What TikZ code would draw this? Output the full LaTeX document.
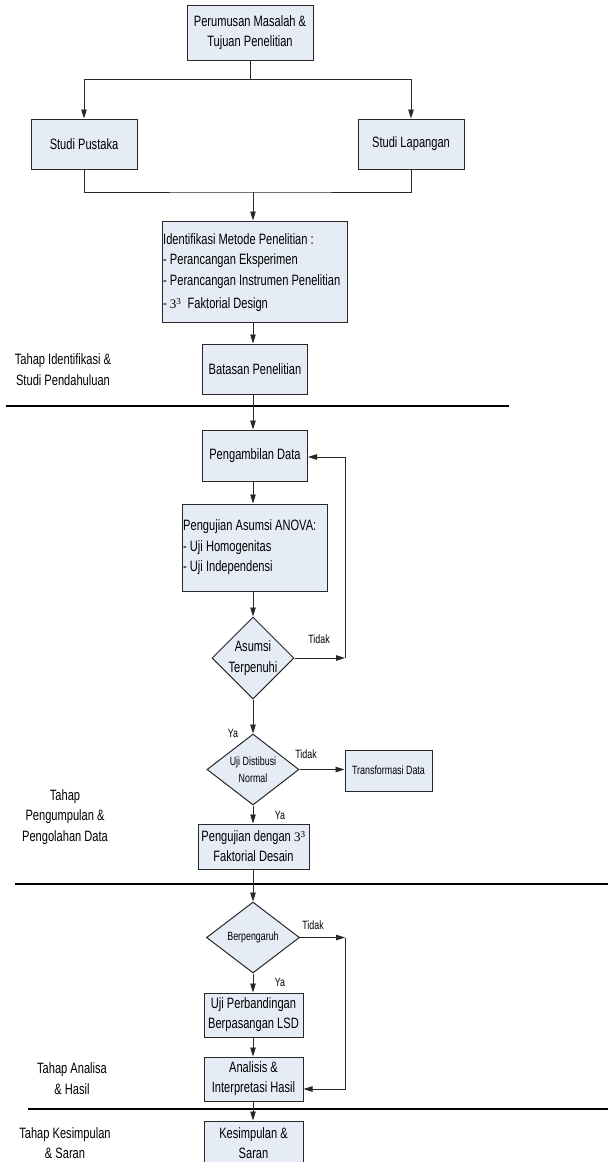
\documentclass[tikz,border=0pt]{standalone}
\usepackage{fontspec}
\setmainfont{Liberation Sans}[FakeStretch=0.74]
\newfontfamily\serifthree{Liberation Serif}
\usetikzlibrary{arrows.meta,shapes.geometric}
\definecolor{boxfill}{RGB}{230,236,246}
\definecolor{edge}{RGB}{40,40,40}
\tikzset{
 box/.style={draw=edge, line width=1pt, fill=boxfill, inner sep=0pt, align=center, font=\fontsize{15}{20}\selectfont},
 lbox/.style={box, align=left},
 dia/.style={draw=edge, line width=1pt, fill=boxfill, diamond, inner sep=0pt},
 txt/.style={inner sep=0pt, align=center, font=\fontsize{15}{20.5}\selectfont},
 small/.style={inner sep=0pt, align=center, font=\fontsize{12}{17}\selectfont},
 arr/.style={draw=edge, line width=0.9pt, -{Triangle[length=9pt,width=5.5pt]}},
 conn/.style={draw=edge, line width=0.9pt},
 sep/.style={draw=black, line width=1.2pt},
}
\newcommand{\thr}{{\serifthree\fontsize{13}{13}\selectfont 3\textsuperscript{3}}}
\begin{document}
\begin{tikzpicture}[x=1pt,y=-1pt]
\fill[white] (0,0) rectangle (608,1162);
\useasboundingbox (0,0) rectangle (608,1162);

% separators
\draw[sep] (6,406) -- (509,406);
\draw[sep] (15,884) -- (608,884);
\draw[sep] (28,1109) -- (608,1109);

% boxes
\node[box, minimum width=126pt, minimum height=55pt] (per) at (250,32.5) {Perumusan Masalah \&\\Tujuan Penelitian};
\node[box, minimum width=106pt, minimum height=50pt] (pus) at (84,144) {Studi Pustaka};
\node[box, minimum width=106pt, minimum height=50pt] (lap) at (411,144) {Studi Lapangan};
\node[box, minimum width=185pt, minimum height=101pt] (idf) at (255,271.5) {};
\node[txt, anchor=west, align=left] (idft) at ([xshift=1pt,yshift=-1pt]idf.west) {Identifikasi Metode Penelitian :\\- Perancangan Eksperimen\\- Perancangan Instrumen Penelitian\\[3pt]- \thr\ \ Faktorial Design};
\node[box, minimum width=105pt, minimum height=50pt] (bat) at (255,369) {Batasan Penelitian};
\node[box, minimum width=105pt, minimum height=51pt] (amb) at (255,455.5) {Pengambilan Data};
\node[box, minimum width=145pt, minimum height=87pt] (asm) at (255,547.5) {};
\node[txt, anchor=west, align=left] (asmt) at ([xshift=1pt]asm.west) {Pengujian Asumsi ANOVA:\\- Uji Homogenitas\\- Uji Independensi};
\node[dia, minimum width=82pt, minimum height=82pt] (d1) at (253,658) {};
\node[txt] at (d1) {Asumsi\\Terpenuhi};
\node[dia, minimum width=92pt, minimum height=71pt] (d2) at (253,769.5) {};
\node[small] at (d2) {Uji Distibusi\\Normal};
\node[box, font=\fontsize{12}{17}\selectfont, minimum width=87pt, minimum height=41pt] (trf) at (388.5,770.5) {Transformasi Data};
\node[box, minimum width=111pt, minimum height=45pt] (pdg) at (253.5,846.5) {Pengujian dengan \thr\\Faktorial Desain};
\node[dia, minimum width=93pt, minimum height=71pt] (d3) at (253,937.5) {};
\node[small] at (d3) {Berpengaruh};
\node[box, minimum width=99pt, minimum height=44pt] (ujp) at (253.5,1015) {Uji Perbandingan\\Berpasangan LSD};
\node[box, minimum width=99pt, minimum height=44pt] (ana) at (253.5,1079) {Analisis \&\\Interpretasi Hasil};
\node[box, minimum width=99pt, minimum height=44pt] (kes) at (253.5,1143) {Kesimpulan \&\\Saran};

% junction coordinates
\coordinate (j1) at (250,79);
\coordinate (j2) at (253,192);
\coordinate (c1) at (345,658);
\coordinate (c2) at (345,937.5);

% connectors
\draw[conn] (per.south) -- (j1);
\draw[arr] (j1) -| (pus.north);
\draw[arr] (j1) -| (lap.north);
\draw[conn] (pus.south) |- (j2) -| (lap.south);
\draw[arr] (j2) -- (idf.north -| j2);
\draw[arr] (idf.south -| j2) -- (bat.north -| j2);
\draw[arr] (bat.south -| j2) -- (amb.north -| j2);
\draw[arr] (amb.south -| j2) -- (asm.north -| j2);
\draw[arr] (asm.south -| j2) -- (d1.north);
\draw[arr] (d1.east) -- (c1);
\draw[arr] (c1) |- ([yshift=-1.5pt]amb.east);
\draw[arr] (d1.south) -- (d2.north);
\draw[arr] (d2.east) -- (trf.west |- d2.east);
\draw[arr] (d2.south) -- (pdg.north -| d2.south);
\draw[arr] (pdg.south -| d2.south) -- (d3.north);
\draw[arr] (d3.east) -- (c2);
\draw[arr] (c2) |- ([yshift=-10pt]ana.east);
\draw[arr] (d3.south) -- (ujp.north -| d3.south);
\draw[arr] (ujp.south -| d3.south) -- (ana.north -| d3.south);
\draw[arr] (ana.south -| d3.south) -- (kes.north -| d3.south);

% edge labels
\node[small] (l1) at (319,639) {Tidak};
\node[small] (l2) at (233,733) {Ya};
\node[small] (l3) at (306,754) {Tidak};
\node[small] (l4) at (280,815) {Ya};
\node[small] (l5) at (313,925) {Tidak};
\node[small] (l6) at (280,982) {Ya};

% phase labels
\node[txt] (p1) at (63,369.5) {Tahap Identifikasi \&\\Studi Pendahuluan};
\node[txt] (p2) at (65,817) {Tahap\\Pengumpulan \&\\Pengolahan Data};
\node[txt] (p3) at (72,1078.5) {Tahap Analisa\\\& Hasil};
\node[txt] (p4) at (65,1143) {Tahap Kesimpulan\\\& Saran};
\end{tikzpicture}
\end{document}
